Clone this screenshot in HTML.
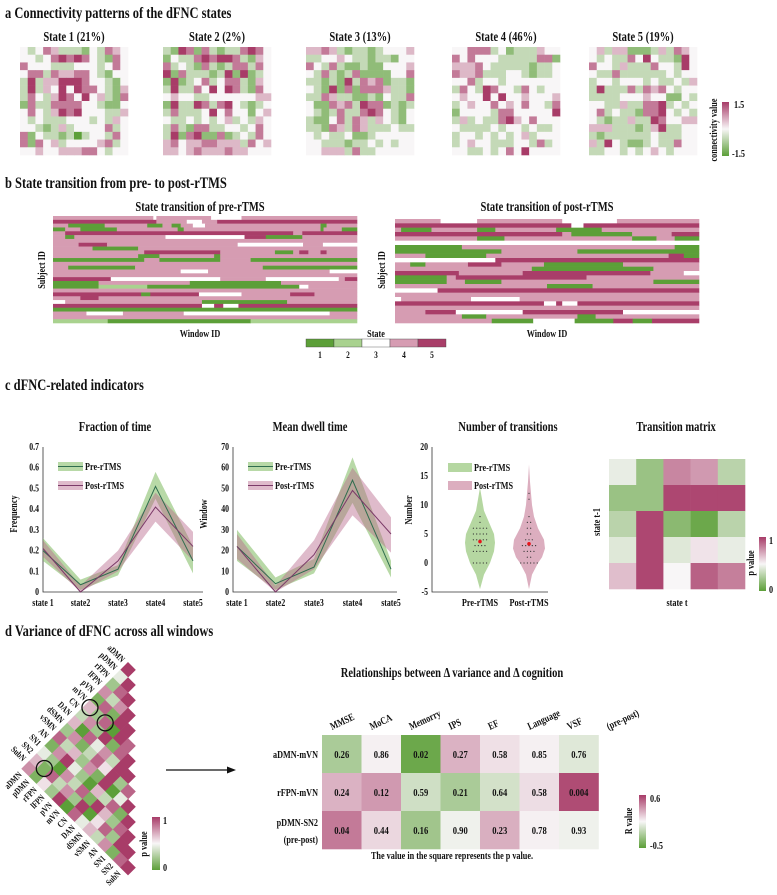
<!DOCTYPE html>
<html><head><meta charset="utf-8"><style>
html,body{margin:0;padding:0;background:#fff;}
svg{display:block;font-family:"Liberation Serif",serif;font-weight:bold;}
text{fill:#111;}
</style></head><body>
<svg id="fig" width="777" height="895" viewBox="0 0 777 895" xmlns="http://www.w3.org/2000/svg">
<text x="5" y="18" font-size="16">a  Connectivity patterns of the dFNC states</text>
<text x="5" y="188" font-size="16">b  State transition from pre- to post-rTMS</text>
<text x="5" y="390" font-size="16">c  dFNC-related indicators</text>
<text x="5" y="636" font-size="16">d  Variance of dFNC across all windows</text>
<g id="root"></g>
</svg>
<script>
// ---------- data ----------
const stateTitles=["State 1 (21%)","State 2 (2%)","State 3 (13%)","State 4 (46%)","State 5 (19%)"];
const state1=["dcdfecccbdcfed","ddcdfgfgfdcbfd","fdddcccdddcdfd","dffcfeeffdcbdd","cgceegggfddcbd","cgcedgdgffdcbe","cfdcegfdgdecbf","bfccffffddcbbd","dfdcegfgdddcce","dcdcccdddcdced","ddcbcecddddfcd","fbdccbcacddcfd","fbfdecddddefcd","ddeddeeeffdcdd"];
const state2=["cbgfbfcbccfgfd","bdccfgfggfcbed","fcdcbfcbcffcfd","gbfcccbcgbgbcd","bgbcdfcdffcbed","cgccfdgdgfcbfd","deddccddddddee","bgccgfcfgdcbcd","cfcccdgdfddbde","dccdcdcdecdced","cfcbffccddcdfd","cgbfgbbfbcdcfd","efdeeffeeecfde","eedefeeefeeddd"];
const state3=["eefecbccbcddde","ccddedccbccbdd","fdcfcbbcbbddde","dcfcbcfbbbbddf","ccbcbgcfefbccb","dcbgbfbfffeccb","ccfeccbbcbdccf","dbbfefcgffbcbc","dcbcfccfgfdcbd","cbbdfcfecedcbd","ccbfecfecccdcc","dcdccdbbcddddd","ddcccbccdcdcdd","ddeeecfccddddd"];
const state4=["ddfffcdbcccedd","fdfdddcccccffb","eeefdcccccbccd","feefcccddcbccd","ddfcddcddddddd","cfdcgfddcfdcdd","deddgdgddeddde","cdeddfdedfddcf","bddddcffdddddg","cecdccfgedfddd","dccccdcddcdccd","cddcdcdcdecddd","cdeddcccddcfcd","ddccdcdfdgdddd"];
const state5=["deceebbbcecfed","dcdccfdgdccbgd","fddcecccfddcgd","dccfccccccdcdd","cddcdddcdccdce","cgcccfcfefdcdd","ccccdddeddbbdc","ddcceccffgcdcd","dfcdccbffgdcdc","dcbcceccgfddee","eeecccbcegccdd","cbccccccdcccdd","ecgdcbbcdccfdd","ccddcdcdedcddd"];
const preRows=["4:33,3:1,4:18,3:10,4:38","5:34,4:10,3:5,4:5,5:46","4:5,1:12,4:14,1:5,4:3,1:3,4:4,3:4,4:38,1:2,4:10","1:4,4:5,1:12,4:20,1:2,4:45,1:1,4:6,1:5","4:4,5:75,4:3,5:18","4:4,1:3,4:30,3:26,5:7,1:12,4:18","4:100","4:9,5:10,4:46,3:23,4:7,3:12","4:13,1:15,4:72","4:30,5:25,4:18,1:6,4:2,5:3,4:4,5:2,4:10","4:28,1:7,4:18,1:2,4:45","1:30,4:5,1:20,4:10,1:35","4:100","4:5,1:22,4:42,1:31","4:42,3:9,4:40,3:9","4:100","5:19,3:36,4:15,3:24,4:2,5:4","1:15,4:30,1:30,4:25","1:15,2:16,1:50,3:3,4:16","4:100","5:29,1:3,5:16,3:14,4:16,5:8,4:14","4:9,5:6,4:85","3:4,4:45,1:28,4:23","5:49,3:4,5:3,3:5,5:39","1:100","4:11,3:12,4:20,3:48,4:9","4:100","2:18,1:47,2:35"];
const postRows=["4:15,3:12,4:28,3:18,4:27","5:58,3:4,5:38","4:2,1:10,4:15,1:6,4:20,1:15,4:32","5:55,4:3,1:20,4:13,5:9","4:27,1:9,4:42,1:8,4:6,1:8","3:100","1:22,4:70,1:8","1:35,4:25,1:40","4:10,1:20,4:60,5:5,1:5","3:33,5:67","4:5,1:5,4:14,5:11,4:14,1:26,4:25","4:45,1:40,4:15","5:21,4:21,5:42,4:11,3:5","1:17,4:3,5:43,4:37","1:17,4:6,1:12,4:50,1:15","4:50,1:15,4:35","3:14,5:86","4:100","3:2,4:23,3:16,4:59","5:49,3:4,5:2,3:5,5:40","4:100","4:10,5:10,3:22,5:33,3:25","4:22,1:8,4:30,1:6,4:34","4:35,1:15,3:15,1:14,5:7,1:7,5:17"];
const stateColors=["#5c9f38","#a9d28f","#ffffff","#d69cb2","#a93e69"];
const stateNums=["1","2","3","4","5"];
const xStates=["state 1","state2","state3","state4","state5"];
const fracPre=[0.20,0.035,0.11,0.51,0.15];
const fracPreLo=[0.15,0.01,0.08,0.45,0.09];
const fracPreHi=[0.26,0.06,0.13,0.58,0.22];
const fracPost=[0.21,0.0,0.15,0.41,0.22];
const fracPostLo=[0.17,0.0,0.10,0.34,0.15];
const fracPostHi=[0.25,0.03,0.20,0.48,0.29];
const fracTicks=["0","0.1","0.2","0.3","0.4","0.5","0.6","0.7"];
const dwellPre=[22,4,12,54,11];
const dwellPreLo=[15,1,9,43,7];
const dwellPreHi=[30,7,16,65,15];
const dwellPost=[22,0,18,49,28];
const dwellPostLo=[16,0,11,37,19];
const dwellPostHi=[28,3,25,60,36];
const dwellTicks=["0","10","20","30","40","50","60","70"];
const numTicks=["-5","0","5","10","15","20"];
const violinVals=[-4.5,-2,0,2,3.5,5,7,9,11,13];
const violinPreW=[0,4,10,14,15,14,9,4,2,0];
const violinPostVals=[-4.5,-2,0,1,2.5,4,6,8,10,12,14,17];
const violinPostW=[0,3,9,13,16,15,9,5,3,2,1,0];
const dotsPre=[0,0,0,0,0,2,2,2,2,2,3,3,3,3,4,4,4,4,4,5,5,5,5,5,6,6,6,6,6,7,8];
const dotsPost=[0,0,0,0,0,0,1,1,2,2,2,2,3,3,3,3,3,4,4,4,5,5,6,6,7,7,8,11,12];
const meanPre=3.7, meanPost=3.3;
const transP=[[0.45,0.2,0.8,0.75,0.3],[0.2,0.2,0.97,0.97,0.97],[0.3,0.97,0.15,0.05,0.3],[0.42,0.97,0.42,0.55,0.45],[0.65,0.97,0.5,0.9,0.82]];
const networks=["aDMN","pDMN","rFPN","lFPN","pVN","mVN","CN","DAN","dSMN","vSMN","AN","SN1","SN2","SubN"];
const triP=["9","49","289","7379","18199","628098","3729189","60847399","271385928","8362719049","17942063819","420738196289","6183729058299","71529084637189"];
const circled=[[5,0],[5,2],[12,1]];
const cogCols=["MMSE","MoCA","Memorry","IPS","EF","Language","VSF","(pre-post)"];
const cogRows=["aDMN-mVN","rFPN-mVN","pDMN-SN2"];
const cogP=[["0.26","0.86","0.02","0.27","0.58","0.85","0.76"],["0.24","0.12","0.59","0.21","0.64","0.58","0.004"],["0.04","0.44","0.16","0.90","0.23","0.78","0.93"]];
const cogR=[[-0.25,0.02,-0.45,0.22,0.07,0.02,-0.08],[0.22,0.3,-0.13,-0.25,-0.12,0.08,0.55],[0.4,0.1,-0.28,-0.03,0.23,0.02,-0.03]];

// ---------- helpers ----------
const NS="http://www.w3.org/2000/svg";
const root=document.getElementById('root');
function E(tag,attrs,parent){const e=document.createElementNS(NS,tag);for(const k in attrs)e.setAttribute(k,attrs[k]);(parent||root).appendChild(e);return e;}
function T(x,y,s,size,anchor,parent,extra){const e=E('text',Object.assign({x:x,y:y,'font-size':size,'text-anchor':anchor||'start'},extra||{}),parent);e.textContent=s;return e;}
function cmap(t){t=Math.max(-1,Math.min(1,t));const w=[248,246,247],g=[92,159,56],p=[168,60,104];const c=t<0?g:p,a=Math.abs(t);return 'rgb('+w.map((v,i)=>Math.round(v+(c[i]-v)*a)).join(',')+')';}
function gradient(id){let defs=document.querySelector('defs')||E('defs',{});const lg=E('linearGradient',{id:id,x1:0,y1:1,x2:0,y2:0},defs);[[0,-1],[0.5,0],[1,1]].forEach(s=>E('stop',{offset:s[0],'stop-color':cmap(s[1])},lg));}
gradient('cbar');

// ---------- panel a ----------
const states=[state1,state2,state3,state4,state5];
const stX=[20,163,306,452,589];
states.forEach((m,k)=>{
  const t=T(stX[k]+54,41,stateTitles[k],13.5,'middle');
  
  
  const n=m.length,cs=108/n;
  m.forEach((row,i)=>{for(let j=0;j<row.length;j++){
    const v=(row.charCodeAt(j)-100)/3;
    const r=E('rect',{x:stX[k]+j*cs,y:47+i*cs,width:cs+0.3,height:cs+0.3,fill:cmap(v)});
    
    
  }});
});
let cb=E('rect',{x:722,y:102,width:7,height:54,fill:'url(#cbar)'});


let t1=T(734,108,'1.5',10.5);
let t2=T(732,157,'-1.5',10.5);
let t3=T(0,0,'connectivity value',10.5,'middle',root,{transform:'translate(717,130) rotate(-90)'});

// ---------- panel b ----------
function stateMap(rows,x0,y0,w,h,name){
  const rh=h/rows.length;
  rows.forEach((r,i)=>{
    const runs=r.split(',').map(s=>s.split(':').map(Number));
    const tot=runs.reduce((a,b)=>a+b[1],0);let cx=x0;
    runs.forEach(([s,l])=>{const ww=l/tot*w;
      const rc=E('rect',{x:cx,y:y0+i*rh,width:ww+0.3,height:rh+0.3,fill:stateColors[s-1]});
      
      
      cx+=ww;});
  });
}
stateMap(preRows,53,216,304,107,'pre-rtms');
stateMap(postRows,395,219,304,104,'post-rtms');
[[200,'State transition of pre-rTMS',45],[547,'State transition of post-rTMS',385]].forEach((d,i)=>{
  const a=T(d[0],211,d[1],13.5,'middle');
  const b=T(d[0],337,'Window ID',10.5,'middle');
  const c=T(0,0,'Subject ID',10.5,'middle',root,{transform:'translate('+d[2]+',270) rotate(-90)'});
});
let st=T(376,337,'State',10.5,'middle');
stateNums.forEach((s,i)=>{
  const r=E('rect',{x:306+i*28,y:339,width:28,height:8,fill:stateColors[i],stroke:'#444','stroke-width':0.4});
  
  
  const tx=T(320+i*28,358,s,9.5,'middle');
  
  
});

// ---------- panel c: line plots ----------
function linePlot(o){
  const ys=v=>592-(v/o.max)*145, xs=i=>o.x0+i*o.dx;
  const tt=T(o.cx,431,o.title,13.5,'middle');
  const ax=E('path',{d:'M'+o.ax+',447 V592 H'+o.axEnd,stroke:'#333',fill:'none','stroke-width':0.8});
  o.ticks.forEach((s,i)=>{const v=i*o.max/(o.ticks.length-1);
    const tk=T(o.ax-4,ys(v)+3,s,10,'end');});
  xStates.forEach((s,i)=>{const tk=T(xs(i),606,s,10,'middle');});
  const yl=T(0,0,o.ylabel,10.5,'middle',root,{transform:'translate('+(o.ax-26)+',514) rotate(-90)'});
  [[o.preLo,o.preHi,o.pre,'rgba(125,185,95,0.55)','#2f6d4e','pre'],[o.postLo,o.postHi,o.post,'rgba(185,105,140,0.45)','#7b3a68','post']].forEach(s=>{
    let d='M'+s[1].map((v,i)=>xs(i)+','+ys(v)).join(' L')+' L'+s[0].map((v,i)=>xs(i)+','+ys(v)).reverse().join(' L')+'Z';
    const b=E('path',{d:d,fill:s[3]});
  });
  [[o.pre,'#2f6d4e','pre'],[o.post,'#7b3a68','post']].forEach(s=>{
    const l=E('polyline',{points:s[0].map((v,i)=>xs(i)+','+ys(v)).join(' '),fill:'none',stroke:s[1],'stroke-width':1});
  });
  [['Pre-rTMS','rgba(125,185,95,0.55)','#2f6d4e',466],['Post-rTMS','rgba(185,105,140,0.45)','#7b3a68',485]].forEach(s=>{
    const r=E('rect',{x:o.ax+15,y:s[3]-4,width:25,height:9,fill:s[1]});
    const l=E('line',{x1:o.ax+15,x2:o.ax+40,y1:s[3]+0.5,y2:s[3]+0.5,stroke:s[2]});
    const tx=T(o.ax+42,s[3]+4,s[0],10.5);
  });
}
linePlot({name:'fraction-of-time',title:'Fraction of time',cx:115,ax:43,axEnd:203,x0:43,dx:37.5,max:0.7,ticks:fracTicks,ylabel:'Frequency',pre:fracPre,preLo:fracPreLo,preHi:fracPreHi,post:fracPost,postLo:fracPostLo,postHi:fracPostHi});
linePlot({name:'mean-dwell-time',title:'Mean dwell time',cx:310,ax:233,axEnd:397,x0:237,dx:38.5,max:70,ticks:dwellTicks,ylabel:'Window',pre:dwellPre,preLo:dwellPreLo,preHi:dwellPreHi,post:dwellPost,postLo:dwellPostLo,postHi:dwellPostHi});

// violin
(function(){
  const yv=v=>592-(v+5)/25*145;
  const tt=T(508,431,'Number of transitions',13.5,'middle');
  const ax=E('path',{d:'M432,447 V592 H548',stroke:'#333',fill:'none','stroke-width':0.8});
  numTicks.forEach((s,i)=>{const tk=T(428,yv(-5+i*5)+3,s,10,'end');});
  const yl=T(0,0,'Number',10.5,'middle',root,{transform:'translate(412,510) rotate(-90)'});
  [[480,'Pre-rTMS'],[529,'Post-rTMS']].forEach(d=>{const tk=T(d[0],606,d[1],10.5,'middle');});
  function violin(cx,vals,ws,fill,dots,mean,name){
    let L=vals.map((v,i)=>[cx-ws[i],yv(v)]),R=vals.map((v,i)=>[cx+ws[i],yv(v)]).reverse();
    const pts=L.concat(R);
    const p=E('polygon',{points:pts.map(q=>q.join(',')).join(' '),fill:fill,'stroke-linejoin':'round'});
    
    
    const cnt={};dots.forEach(v=>{cnt[v]=(cnt[v]||0)+1;});
    Object.keys(cnt).forEach(k=>{const n=cnt[k];for(let i=0;i<n;i++){
      const c=E('circle',{cx:cx+(i-(n-1)/2)*3.3,cy:yv(+k),r:0.6,fill:'#333'});
      
      }});
    const m=E('circle',{cx:cx,cy:yv(mean),r:1.8,fill:'#e8141b'});
    
    
  }
  violin(480,violinVals,violinPreW,'#b5d7a1',dotsPre,meanPre,'pre');
  violin(529,violinPostVals,violinPostW,'#dcaebf',dotsPost,meanPost,'post');
  [['Pre-rTMS','#b5d7a1',467],['Post-rTMS','#dcaebf',485]].forEach(s=>{
    const r=E('rect',{x:448,y:s[2]-4,width:24,height:9,fill:s[1]});
    const tx=T(474,s[2]+4,s[0],10.5);
  });
})();

// transition matrix
(function(){
  const tt=T(676,431,'Transition matrix',13.5,'middle');
  const x0=609,y0=459,w=136/5,h=130/5;
  transP.forEach((row,i)=>row.forEach((p,j)=>{
    const r=E('rect',{x:x0+j*w,y:y0+i*h,width:w+0.3,height:h+0.3,fill:cmap(2*p-1)});
    
    
  }));
  const a=T(0,0,'state t-1',10.5,'middle',root,{transform:'translate(600,522) rotate(-90)'});
  const b=T(677,606,'state t',10.5,'middle');
  const c=E('rect',{x:759,y:537,width:7,height:54,fill:'url(#cbar)'});
  const d=T(769,544,'1',10.5);
  const e=T(769,593,'0',10.5);
  const f=T(0,0,'p value',10.5,'middle',root,{transform:'translate(754,563) rotate(-90)'});
})();

// ---------- panel d ----------
(function(){
  const s=213/(14*Math.SQRT2);
  const g=E('g',{transform:'translate(128,662) rotate(45)'});
  
  
  triP.forEach((row,i)=>{for(let j=0;j<row.length;j++){
    const p=+row[j]/9;
    const r=E('rect',{x:j*s,y:i*s,width:s+0.3,height:s+0.3,fill:cmap(2*p-1)},g);
    
    
  }});
  circled.forEach(([i,j])=>{
    const c=E('circle',{cx:(j+0.5)*s,cy:(i+0.5)*s,r:8,fill:'none',stroke:'#111','stroke-width':1.3},g);
    
    
  });
  const d=s*Math.SQRT2/2;
  networks.forEach((n,i)=>{
    const x=128-(i+0.5)*d-3, y=662+(i+0.5)*d-3;
    const a=T(0,0,n,9,'end',root,{transform:'translate('+x+','+y+') rotate(45)'});
    
    
    const bx=128-106.5+(i+0.5)*d-3, by=768.5+(i+0.5)*d+3;
    const b=T(0,0,n,9,'end',root,{transform:'translate('+bx+','+by+') rotate(-45)'});
    
    
  });
  const c=E('rect',{x:152,y:817,width:8,height:53,fill:'url(#cbar)'});
  const t1=T(163,824,'1',10.5);
  const t2=T(163,871,'0',10.5);
  const t3=T(0,0,'p value',10.5,'middle',root,{transform:'translate(147,844) rotate(-90)'});
  const ar=E('line',{x1:166,y1:770,x2:229,y2:770,stroke:'#111','stroke-width':1.3});
  const ah=E('polygon',{points:'236,770 227,766.5 227,773.5',fill:'#111'});

  const tt=T(452,677,'Relationships between \u0394 variance and \u0394 cognition',13.5,'middle');
  const x0=322,y0=735,cw=39.5,rh=38;
  cogR.forEach((row,i)=>row.forEach((r,j)=>{
    const rc=E('rect',{x:x0+j*cw,y:y0+i*rh,width:cw+0.3,height:rh+0.3,fill:cmap(r>0?r/0.6:r/0.5)});
    
    
    const tx=T(x0+j*cw+cw/2,y0+i*rh+rh/2+4,cogP[i][j],11,'middle');
    
    
  }));
  cogCols.forEach((s,j)=>{
    const tx=T(0,0,s,10.5,'start',root,{transform:'translate('+(x0+j*cw+10)+',730) rotate(-25)'});
    
    
  });
  cogRows.forEach((s,i)=>{
    const tx=T(318,y0+i*rh+(i==2?15:23),s,10.5,'end');
    
    
  });
  const pp=T(318,843,'(pre-post)',10.5,'end');
  const ft=T(452,859,'The value in the square represents the p value.',10.5,'middle');
  const cb2=E('rect',{x:639,y:795,width:7,height:53,fill:'url(#cbar)'});
  const a1=T(650,802,'0.6',10.5);
  const a2=T(650,849,'-0.5',10.5);
  const a3=T(0,0,'R value',10.5,'middle',root,{transform:'translate(632,821) rotate(-90)'});
})();

// condensed (Times-like narrow) text: compress horizontally
document.querySelectorAll('#fig text').forEach(t=>{
  const sx=0.78;
  const tr=t.getAttribute('transform');
  if(tr){t.setAttribute('transform',tr+' scale('+sx+',1)');}
  else{const x=+t.getAttribute('x'),y=+t.getAttribute('y');
    t.setAttribute('x',0);t.setAttribute('y',0);
    t.setAttribute('transform','translate('+x+','+y+') scale('+sx+',1)');}
});
</script>
</body></html>
